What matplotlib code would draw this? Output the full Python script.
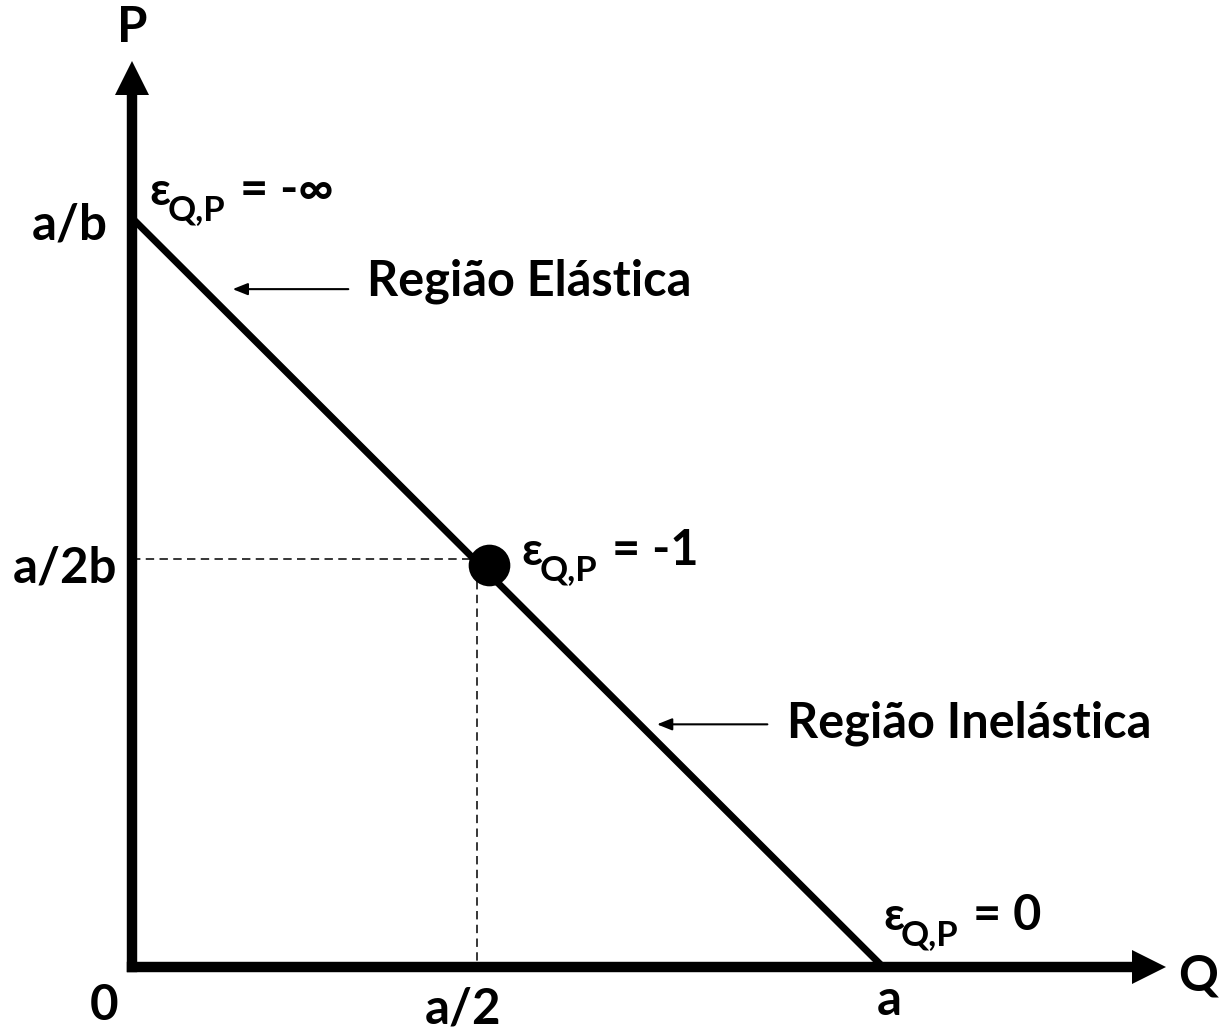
import matplotlib
matplotlib.use("Agg")
import matplotlib.pyplot as plt

plt.rcParams['font.family'] = ['Lato', 'Open Sans', 'DejaVu Sans']
plt.rcParams['font.weight'] = 'bold'

# demand curve P = a/b - Q/b, with a = 10, b = 1
a = 10.0
b = 1.0
demand_q = [0.0, a]
demand_p = [a / b, 0.0]

# unit elastic point and the dashed guides (as drawn)
unit_q, unit_p = 4.75, 5.37
guide_q, guide_p = 4.6, 5.45

# axis extents (tips of the arrows)
q_tip, p_tip = 13.78, 12.11
head = 0.47  # arrow head length in data units

# tick-like labels: (text, q, p, ha)
axis_labels = [
    ("P", 0.0, 12.35, "center"),
    ("Q", 13.93, -0.31, "left"),
    ("0", -0.37, -0.71, "center"),
    ("a/2", 4.41, -0.75, "center"),
    ("a", 10.08, -0.64, "center"),
    ("a/b", -0.32, 9.71, "right"),
    ("a/2b", -0.2, 5.14, "right"),
]

# elasticity labels: (q, p, right-hand side)
eps_labels = [
    (0.23, 10.17, "= -\u221e"),
    (5.19, 5.37, "= -1"),
    (10.0, 0.49, "= 0"),
]

# regions: (text, text q, text p, arrow tail q, arrow tip q, arrow p)
regions = [
    ("Região Elástica", 3.13, 8.97, 2.88, 1.34, 9.05),
    ("Região Inelástica", 8.72, 3.07, 8.46, 6.99, 3.24),
]

fig = plt.figure(figsize=(12.2, 10.31), dpi=100)
ax = fig.add_axes([0, 0, 1, 1])
ax.set_xlim(-1.758, 14.487)
ax.set_ylim(-0.854, 12.91)
ax.axis("off")

# axes with arrow heads
ax.plot([0, 0], [0, p_tip - head], color="k", lw=7.5, solid_capstyle="projecting")
ax.plot([0, q_tip - head], [0, 0], color="k", lw=7.5, solid_capstyle="projecting")
ax.plot([0], [p_tip - head / 2], marker="^", ms=25, color="k", mew=0)
ax.plot([q_tip - head / 2], [0], marker=">", ms=25, color="k", mew=0)

# demand line
ax.plot(demand_q, demand_p, color="k", lw=5, solid_capstyle="butt")

# dashed guides
ax.plot([0, guide_q], [guide_p, guide_p], color="k", lw=1.1, ls=(0, (5.5, 3.5)))
ax.plot([guide_q, guide_q], [guide_p - 0.3, 0], color="k", lw=1.1, ls=(0, (5.5, 3.5)))

# unit elastic point
ax.plot([unit_q], [unit_p], "o", color="k", ms=30, mew=0, zorder=5)

for txt, q, p, ha in axis_labels:
    ax.text(q, p, txt, ha=ha, va="baseline", fontsize=35.5, fontweight="bold")

for q, p, rhs in eps_labels:
    ax.text(q, p, "\u03b5", ha="left", va="baseline", fontsize=33, fontweight="bold")
    ax.annotate("Q,P", (q, p), xytext=(13, -10.8), textcoords="offset points",
                ha="left", va="baseline", fontsize=25, fontweight="bold")
    ax.annotate(rhs, (q, p), xytext=(65, 0), textcoords="offset points",
                ha="left", va="baseline", fontsize=35, fontweight="bold")

for txt, tq, tp, aq0, aq1, ap in regions:
    ax.text(tq, tp, txt, ha="left", va="baseline", fontsize=35, fontweight="bold")
    ax.annotate("", xy=(aq1, ap), xytext=(aq0, ap),
                arrowprops=dict(arrowstyle="-|>,head_length=0.45,head_width=0.18",
                                mutation_scale=20, lw=1.5, color="k",
                                shrinkA=0, shrinkB=0))

fig.savefig("out.png", dpi=100)
